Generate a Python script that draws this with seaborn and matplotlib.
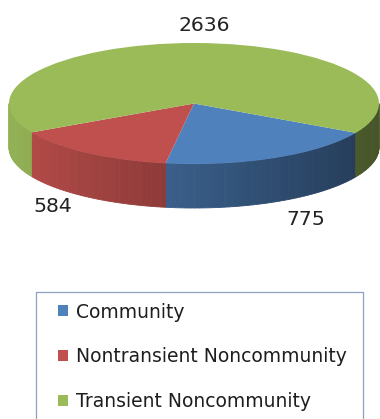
import numpy as np
import matplotlib
matplotlib.use("Agg")
import matplotlib.pyplot as plt
from matplotlib.patches import Polygon, Rectangle
import seaborn as sns

# Water system counts by type
categories = ["Community", "Nontransient Noncommunity", "Transient Noncommunity"]
counts = [775, 584, 2636]
slice_colors = ["#4f81bd", "#c0504d", "#9bbb59"]

sns.set_theme(style="white")
plt.rcParams["font.family"] = ["DejaVu Sans"]

W, H, DPI = 380, 419, 100
fig = plt.figure(figsize=(W / DPI, H / DPI), dpi=DPI)
fig.patch.set_facecolor("white")
ax = fig.add_axes([0, 0, 1, 1])

# Tilted-disc geometry in pixels: centre, semi-axes and rim depth
cx, cy, rx, ry, depth_px = 194, 103.5, 185, 60.5, 44
depth = depth_px / ry

palette = sns.color_palette(slice_colors)
wedges, _ = ax.pie(counts, colors=palette, startangle=-29, counterclock=False,
                   radius=1, center=(0, 0), frame=True,
                   wedgeprops=dict(linewidth=0, zorder=3))
ax.set_aspect("auto")
ax.set_xlim(-cx / rx, (W - cx) / rx)
ax.set_ylim((cy - H) / ry, cy / ry)
ax.axis("off")


def shade(rgb, x):
    # light falls from the left: rim gets darker towards the right
    f = 0.95 - 0.25 * (x + 1)
    return tuple(np.clip(np.array(rgb) * f, 0, 1))


# Visible side wall: the front half of the disc (angles -180..0)
for w, col in zip(wedges, palette):
    t1, t2 = w.theta1, w.theta2
    for k in (-1, 0, 1):
        a = max(t1 + 360 * k, -180)
        b = min(t2 + 360 * k, 0)
        if b <= a:
            continue
        edges = np.linspace(a, b, max(2, int((b - a) / 1.5) + 1))
        for e0, e1 in zip(edges[:-1], edges[1:]):
            th = np.radians(np.linspace(e0, e1, 4))
            xs, ys = np.cos(th), np.sin(th)
            poly = np.column_stack([np.r_[xs, xs[::-1]],
                                    np.r_[ys, ys[::-1] - depth]])
            c = shade(col, xs.mean())
            ax.add_patch(Polygon(poly, closed=True, facecolor=c, edgecolor=c,
                                 linewidth=0.6, zorder=2))

# Value labels (pixel anchor of each label's baseline centre)
label_px = [(306, 225), (53, 212), (204, 31)]
for val, (px, py) in zip(counts, label_px):
    ax.text((px - cx) / rx, (cy - py) / ry, f"{val}", ha="center",
            va="baseline", fontsize=14.7, color="#222222", zorder=5)

# Legend box (runs past the bottom edge)
fig.add_artist(Rectangle((36 / W, 1 - 440 / H), (363 - 36) / W, (440 - 292) / H,
                         transform=fig.transFigure, facecolor="none",
                         edgecolor="#8ea2bf", linewidth=0.9))
fs = 13.5
fs_px = fs * DPI / 72
ax.legend(wedges, categories, loc="upper left", frameon=False,
          bbox_to_anchor=(58 / W, 1 - 302.5 / H), bbox_transform=fig.transFigure,
          fontsize=fs, borderpad=0, borderaxespad=0,
          handlelength=10 / fs_px, handleheight=10 / fs_px,
          handletextpad=8 / fs_px, labelspacing=1.38, labelcolor="#1e1e1e")

fig.savefig("out.png", dpi=DPI, facecolor="white")
